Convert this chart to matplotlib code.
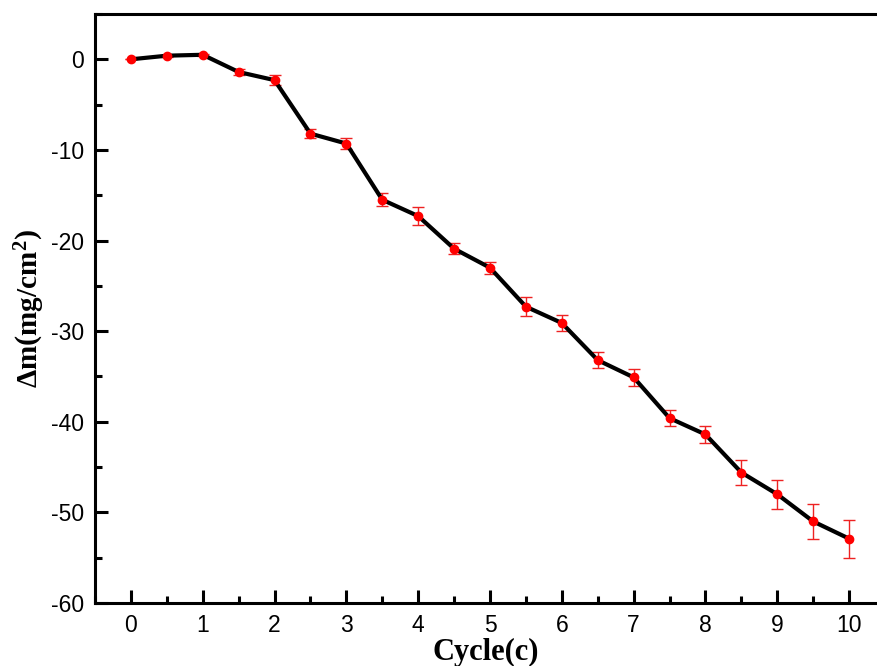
import matplotlib
matplotlib.use("Agg")
import matplotlib.pyplot as plt
from matplotlib.ticker import MultipleLocator

cycles = [0, 0.5, 1, 1.5, 2, 2.5, 3, 3.5, 4, 4.5, 5, 5.5, 6, 6.5, 7, 7.5, 8, 8.5, 9, 9.5, 10]
dm = [0.0, 0.4, 0.5, -1.4, -2.3, -8.2, -9.3, -15.5, -17.3, -20.9, -23.0, -27.3, -29.1,
      -33.2, -35.1, -39.6, -41.4, -45.6, -48.0, -51.0, -52.9]
err = [0.0, 0.1, 0.1, 0.3, 0.55, 0.5, 0.64, 0.7, 0.96, 0.6, 0.68, 1.07, 0.88,
       0.92, 0.94, 0.87, 0.92, 1.33, 1.6, 1.9, 2.1]

plt.rcParams['axes.unicode_minus'] = False
plt.rcParams['mathtext.fontset'] = 'custom'
plt.rcParams['mathtext.rm'] = 'Liberation Serif:bold'
plt.rcParams['mathtext.bf'] = 'Liberation Serif:bold'
plt.rcParams['mathtext.it'] = 'Liberation Serif:bold'

W, H = 877, 666
fig = plt.figure(figsize=(W / 100, H / 100), dpi=100)
ax = fig.add_axes([95 / W, 1 - 603 / H, (885 - 95) / W, (603 - 14) / H])

ax.errorbar(cycles, dm, yerr=err, fmt='none', ecolor='#ee2222', elinewidth=1.0,
            capsize=4.5, capthick=1.0, zorder=2)
ax.plot(cycles, dm, color='black', lw=3, zorder=3)
ax.plot(cycles, dm, 'o', color='red', ms=6, zorder=4)

ax.set_xlim(-0.5, 10.5)
ax.set_ylim(-60, 5)
ax.xaxis.set_major_locator(MultipleLocator(1))
ax.xaxis.set_minor_locator(MultipleLocator(0.5))
ax.yaxis.set_major_locator(MultipleLocator(10))
ax.yaxis.set_minor_locator(MultipleLocator(5))
ax.tick_params(which='both', direction='in', width=2.2, labelsize=16.5, top=False, right=False)
ax.tick_params(which='major', length=9.5, pad=8)
ax.tick_params(which='minor', length=5)
for lab in ax.get_xticklabels() + ax.get_yticklabels():
    lab.set_fontfamily('Liberation Sans')
for s in ax.spines.values():
    s.set_linewidth(2.2)

fig.text(486 / W, 1 - 652 / H, 'Cycle(c)', ha='center', va='center',
         fontsize=22, fontweight='bold', fontfamily='Liberation Serif')
fig.text(30 / W, 1 - 308 / H, r'$\Delta m\left(mg/cm^2\right)$', ha='center', va='center',
         rotation=90, fontsize=21)

fig.savefig('out.png', dpi=100)
